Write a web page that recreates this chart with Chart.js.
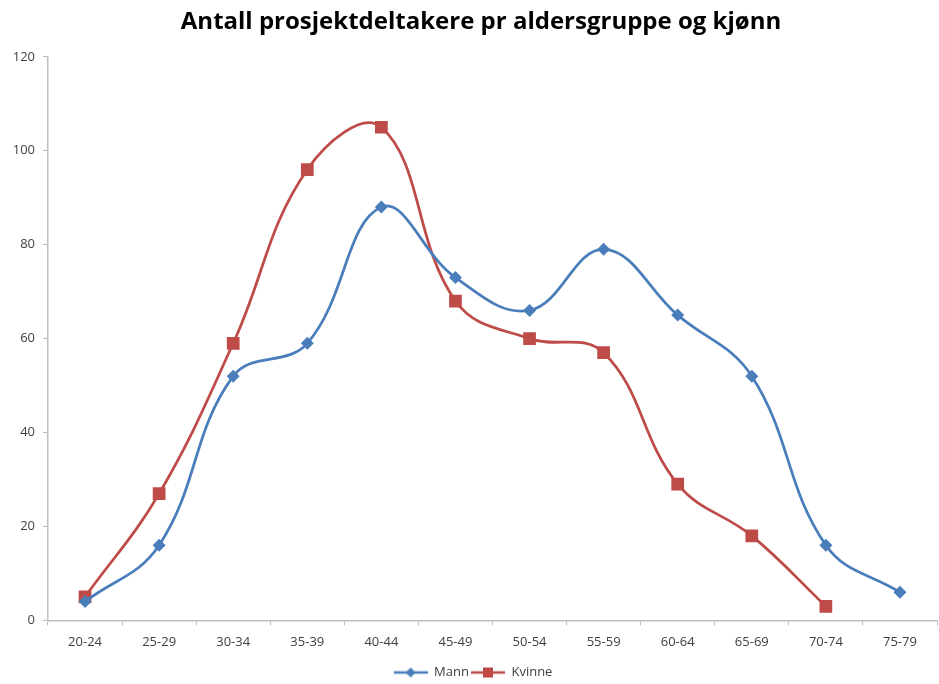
<!DOCTYPE html>
<html>
<head>
<meta charset="utf-8">
<script src="https://cdn.jsdelivr.net/npm/chart.js@4"></script>
<style>
  html, body { margin: 0; padding: 0; background: #fff; overflow: hidden; }
  #wrap { position: relative; width: 946px; height: 684px; }
</style>
</head>
<body>
<div id="wrap"><canvas id="chart"></canvas></div>
<script>
// Aldersgrupper og verdier lest av figuren
const ageGroups = ['20-24', '25-29', '30-34', '35-39', '40-44', '45-49', '50-54', '55-59', '60-64', '65-69', '70-74', '75-79'];
const mannValues = [4, 16, 52, 59, 88, 73, 66, 79, 65, 52, 16, 6];
const kvinneValues = [5, 27, 59, 96, 105, 68, 60, 57, 29, 18, 3, null];
const yTicks = [0, 20, 40, 60, 80, 100, 120];

const BLUE = '#4A7EBB';
const RED = '#BE4B48';
const AXIS = '#BFBFBF';
const TEXT = '#404040';

// liten legend-ikon: linje + markør
const legendIcon = (color, shape) => {
  const c = document.createElement('canvas');
  c.width = 34; c.height = 12;
  const ctx = c.getContext('2d');
  ctx.strokeStyle = color;
  ctx.lineWidth = 2.5;
  ctx.beginPath();
  ctx.moveTo(0, 6); ctx.lineTo(34, 6);
  ctx.stroke();
  ctx.fillStyle = color;
  if (shape === 'diamond') {
    ctx.beginPath();
    ctx.moveTo(17, 1); ctx.lineTo(22, 6); ctx.lineTo(17, 11); ctx.lineTo(12, 6);
    ctx.closePath();
    ctx.fill();
  } else {
    ctx.fillRect(12, 1, 10, 10);
  }
  return c;
};

// finjuster plassering av tittel og legend
const boxShift = {
  id: 'boxShift',
  afterLayout: (chart) => {
    if (chart.titleBlock) {
      chart.titleBlock.left += 8;
      chart.titleBlock.right += 8;
    }
    if (chart.legend) {
      chart.legend.top += 5;
      chart.legend.bottom += 5;
    }
  }
};

new Chart(document.getElementById('chart').getContext('2d'), {
  type: 'line',
  data: {
    labels: ageGroups,
    datasets: [{
      label: 'Mann',
      data: mannValues,
      borderColor: BLUE,
      backgroundColor: BLUE,
      borderWidth: 2.75,
      tension: 0.4,
      pointStyle: 'rectRot',
      pointRadius: 6.5,
      pointBorderWidth: 0,
      pointBackgroundColor: BLUE
    }, {
      label: 'Kvinne',
      data: kvinneValues,
      borderColor: RED,
      backgroundColor: RED,
      borderWidth: 2.75,
      tension: 0.4,
      pointStyle: 'rect',
      pointRadius: 9,
      pointBorderWidth: 0,
      pointBackgroundColor: RED
    }]
  },
  plugins: [boxShift],
  options: {
    responsive: true,
    maintainAspectRatio: false,
    animation: false,
    layout: { padding: { left: 0, right: 0, top: 8, bottom: 0 } },
    plugins: {
      title: {
        display: true,
        text: 'Antall prosjektdeltakere pr aldersgruppe og kjønn',
        color: '#000',
        font: { family: 'Open Sans', size: 24, weight: 'bold' },
        padding: { top: 0, bottom: 20 }
      },
      legend: {
        position: 'bottom',
        labels: {
          usePointStyle: true,
          pointStyleWidth: 34,
          color: TEXT,
          font: { family: 'Open Sans', size: 13 },
          padding: 2,
          generateLabels: (chart) => chart.data.datasets.map((ds, i) => ({
            text: ds.label,
            fontColor: TEXT,
            pointStyle: legendIcon(ds.borderColor, i === 0 ? 'diamond' : 'square'),
            datasetIndex: i,
            hidden: false,
            lineWidth: 0
          }))
        }
      },
      tooltip: { enabled: false }
    },
    scales: {
      x: {
        offset: true,
        grid: { offset: true, drawOnChartArea: false, drawTicks: true, tickLength: 5, color: AXIS },
        border: { display: true, color: AXIS, width: 1.5 },
        ticks: { color: TEXT, font: { family: 'Open Sans', size: 13 }, padding: 9, maxRotation: 0 }
      },
      y: {
        min: 0,
        max: 120,
        afterBuildTicks: (axis) => { axis.ticks = yTicks.map(v => ({ value: v })); },
        afterFit: (axis) => { axis.width = 48; },
        grid: { drawOnChartArea: false, drawTicks: true, tickLength: 5, color: AXIS },
        border: { display: true, color: AXIS, width: 1.5 },
        ticks: { color: TEXT, font: { family: 'Open Sans', size: 13 }, padding: 8 }
      }
    }
  }
});
</script>
</body>
</html>
